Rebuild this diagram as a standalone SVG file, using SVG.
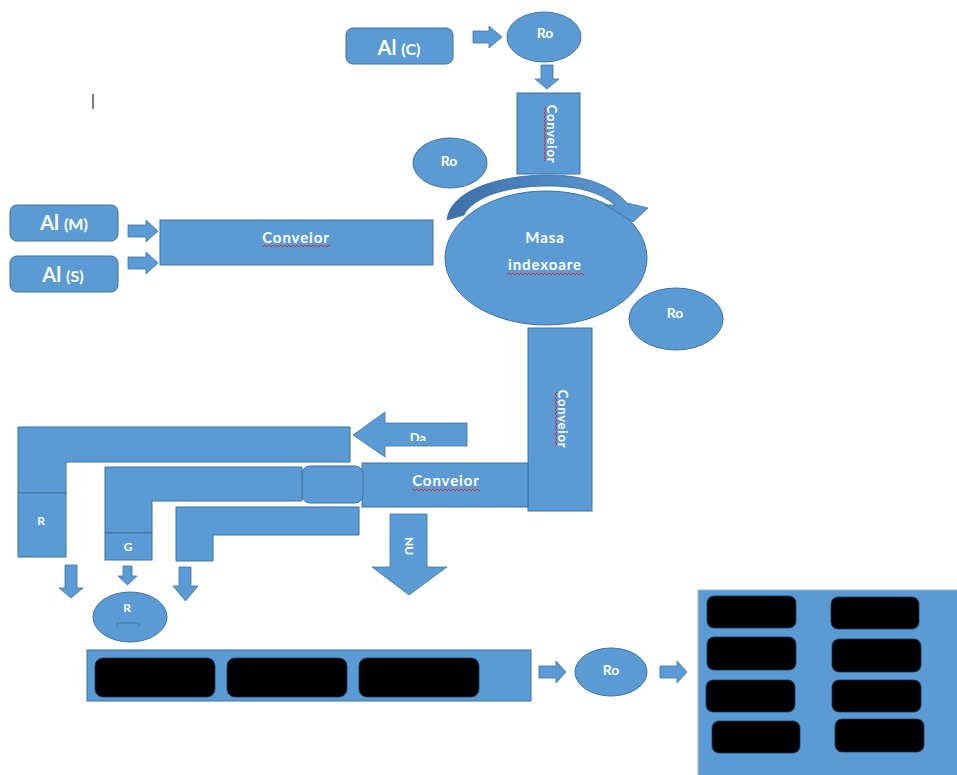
<svg xmlns="http://www.w3.org/2000/svg" width="957" height="775" viewBox="0 0 957 775">
  <defs>
    <style>
      .shape { fill: #5B9BD5; stroke: #41719C; stroke-width: 1; }
      .arrow { fill: #5B9BD5; stroke: #41719C; stroke-width: 0.8; }
      .slot { fill: #000; stroke: #1f3550; stroke-width: 0.8; }
      .lbl { fill: #fff; font-family: Lato, "Open Sans", "Liberation Sans", sans-serif; text-anchor: middle; font-weight: 700; }
      .ro { font-size: 14px; }
      .conv { font-size: 15px; letter-spacing: 0.9px; }
      .convv { font-size: 13px; letter-spacing: 0.8px; }
      .small { font-size: 12px; }
    </style>
    <pattern id="wave" width="4" height="4" patternUnits="userSpaceOnUse">
      <path d="M0 2 Q1 0 2 2 Q3 4 4 2" fill="none" stroke="#e0242b" stroke-width="0.9"/>
    </pattern>
    <linearGradient id="turn" x1="448" y1="0" x2="648" y2="0" gradientUnits="userSpaceOnUse">
      <stop offset="0" stop-color="#3c70a8"/>
      <stop offset="0.5" stop-color="#4f88c3"/>
      <stop offset="1" stop-color="#5B9BD5"/>
    </linearGradient>
    <clipPath id="daClip">
      <rect x="385" y="420" width="82" height="21"/>
    </clipPath>
  </defs>

  <rect x="0" y="0" width="957" height="775" fill="#ffffff"/>

  <!-- text caret -->
  <line x1="93" y1="94" x2="93" y2="109" stroke="#555" stroke-width="1.5"/>

  <!-- connectors: block arrows -->
  <g id="connectors">
    <path class="arrow" d="M473 31 H489 V26 L502 37 L489 48 V43 H473 Z"/>
    <path class="arrow" d="M541 65 H553 V79 H559 L547 89 L535 79 H541 Z"/>
    <path class="arrow" d="M128 225 H146 V220 L158 231 L146 242 V237 H128 Z"/>
    <path class="arrow" d="M128 257 H146 V252 L158 263 L146 274 V269 H128 Z"/>
    <g id="arrow-da">
      <path class="arrow" d="M467 423 H385 V412 L353 435 L385 457 V446 H467 Z"/>
      <text class="lbl" x="418" y="443" font-size="13" clip-path="url(#daClip)">Da</text>
    </g>
    <g id="arrow-nu">
      <path class="arrow" d="M390 514 H427 V567 H447 L409 595 L372 567 H390 Z"/>
      <g transform="translate(405 546) rotate(90)">
        <text class="lbl" x="0" y="0" font-size="12">NU</text>
      </g>
    </g>
    <path class="arrow" d="M65 565 H77 V588 H83 L71 598 L59 588 H65 Z"/>
    <path class="arrow" d="M123 566 H132 V576 H137 L127.5 585 L118 576 H123 Z"/>
    <path class="arrow" d="M179 567 H191 V586 H198 L185.5 601 L173 586 H179 Z"/>
    <path class="arrow" d="M539 666 H556 V661 L566 672 L556 683 V678 H539 Z"/>
    <path class="arrow" d="M660 666 H677 V661 L687 672 L677 683 V678 H660 Z"/>
  </g>

  <!-- raw material inputs -->
  <g id="al-c">
    <rect class="shape" x="346" y="28" width="107" height="36" rx="7"/>
    <text class="lbl" x="399" y="55"><tspan font-size="20">Al </tspan><tspan font-size="16">(C)</tspan></text>
  </g>
  <g id="al-m">
    <rect class="shape" x="10" y="205" width="108" height="36" rx="7"/>
    <text class="lbl" x="64" y="230"><tspan font-size="20">Al </tspan><tspan font-size="16">(M)</tspan></text>
  </g>
  <g id="al-s">
    <rect class="shape" x="10" y="256" width="108" height="36" rx="7"/>
    <text class="lbl" x="63" y="282"><tspan font-size="20">Al </tspan><tspan font-size="16">(S)</tspan></text>
  </g>

  <!-- robots -->
  <g id="ro-top">
    <ellipse class="shape" cx="544" cy="37" rx="37" ry="25"/>
    <text class="lbl ro" x="545" y="38">Ro</text>
  </g>
  <g id="ro-left">
    <ellipse class="shape" cx="450" cy="163" rx="37" ry="25"/>
    <text class="lbl ro" x="449" y="166">Ro</text>
  </g>
  <g id="ro-right">
    <ellipse class="shape" cx="676" cy="319" rx="47" ry="31"/>
    <text class="lbl ro" x="675" y="318">Ro</text>
  </g>
  <g id="ro-bottom">
    <ellipse class="shape" cx="611" cy="672" rx="36" ry="24"/>
    <text class="lbl ro" x="611" y="675">Ro</text>
  </g>

  <!-- conveyors -->
  <g id="conv-left">
    <rect class="shape" x="160" y="220" width="273" height="45"/>
    <text class="lbl conv" x="296" y="243">Conveior</text>
    <rect x="262" y="244" width="68" height="4" fill="url(#wave)"/>
  </g>

  <!-- indexing table -->
  <g id="masa">
    <ellipse class="shape" cx="546" cy="258" rx="101" ry="67"/>
    <text class="lbl conv" x="545" y="243">Masa</text>
    <text class="lbl conv" x="545" y="270">indexoare</text>
    <rect x="507" y="271" width="77" height="4" fill="url(#wave)"/>
  </g>

  <!-- rotation of the indexing table -->
  <g id="rotation">
    <path d="M447 220 C450 190 500 175 548 175 C590 175 614 188 627 203 L648 208 L633 222 L605 205 L615 205 C600 192 578 186 548 186 C508 186 474 196 464 215 Z" fill="url(#turn)" stroke="#3c6c9c" stroke-width="0.8"/>
  </g>

  <g id="conv-top">
    <rect class="shape" x="517" y="93" width="63" height="81"/>
    <g transform="translate(547 134) rotate(90)">
      <text class="lbl convv" x="0" y="0">Conveior</text>
      <rect x="-27" y="1" width="54" height="4" fill="url(#wave)"/>
    </g>
  </g>

  <g id="conv-right">
    <rect class="shape" x="528" y="328" width="64" height="183"/>
    <g transform="translate(558 419) rotate(90)">
      <text class="lbl convv" x="0" y="0">Conveior</text>
      <rect x="-27" y="1" width="54" height="4" fill="url(#wave)"/>
    </g>
  </g>
  <g id="conv-mid">
    <rect class="shape" x="362" y="463" width="166" height="44"/>
    <text class="lbl conv" x="446" y="486">Conveior</text>
    <rect x="412" y="487" width="68" height="4" fill="url(#wave)"/>
  </g>
  <g id="sorter">
    <rect class="shape" x="302" y="466" width="61" height="37" rx="8"/>
  </g>

  <!-- output chutes -->
  <g id="chute-r">
    <path class="shape" d="M18 427 H350 V462 H66 V493 H18 Z"/>
    <rect class="shape" x="18" y="493" width="48" height="64"/>
    <text class="lbl small" x="41" y="525">R</text>
  </g>
  <g id="chute-g">
    <path class="shape" d="M105 467 H302 V501 H152 V533 H105 Z"/>
    <rect class="shape" x="105" y="533" width="47" height="27"/>
    <text class="lbl small" x="128" y="551">G</text>
  </g>
  <g id="chute-3">
    <path class="shape" d="M176 507 H359 V535 H213 V561 H176 Z"/>
  </g>

  <g id="r-robot">
    <ellipse class="shape" cx="130" cy="617" rx="37" ry="25"/>
    <text class="lbl small" x="127" y="612">R</text>
    <path d="M117 627 V623 H139 V626" fill="none" stroke="#4a6686" stroke-width="0.8"/>
  </g>

  <!-- packing line -->
  <g id="pack-line">
    <rect class="shape" x="87" y="650" width="444" height="51"/>
    <rect class="slot" x="95" y="658" width="120" height="39" rx="8"/>
    <rect class="slot" x="227" y="658" width="120" height="39" rx="8"/>
    <rect class="slot" x="359" y="658" width="120" height="39" rx="8"/>
  </g>

  <!-- storage -->
  <g id="storage">
    <rect x="698" y="590" width="270" height="200" fill="#5B9BD5" stroke="#9fb3c8" stroke-width="1"/>
    <rect class="slot" x="707" y="596" width="89" height="32" rx="7"/>
    <rect class="slot" x="831" y="597" width="88" height="32" rx="7"/>
    <rect class="slot" x="707" y="637" width="89" height="33" rx="7"/>
    <rect class="slot" x="832" y="639" width="89" height="33" rx="7"/>
    <rect class="slot" x="706" y="680" width="89" height="32" rx="7"/>
    <rect class="slot" x="832" y="680" width="89" height="32" rx="7"/>
    <rect class="slot" x="712" y="721" width="88" height="32" rx="7"/>
    <rect class="slot" x="835" y="719" width="89" height="33" rx="7"/>
  </g>
</svg>
